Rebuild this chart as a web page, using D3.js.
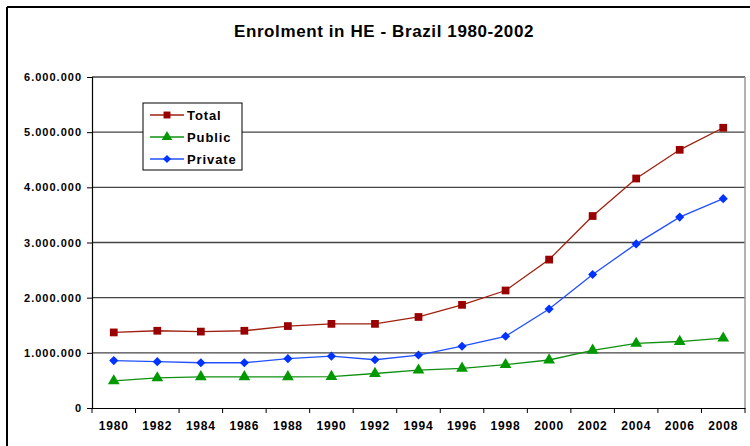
<!DOCTYPE html>
<html>
<head>
<meta charset="UTF-8">
<script src="https://cdn.jsdelivr.net/npm/d3@7/dist/d3.min.js"></script>
<style>
  body { margin:0; background:#fff; }
  text { font-family: "Liberation Sans", Arial, sans-serif; font-weight: bold; }
</style>
</head>
<body>
<div id="chart"></div>
<script>
// data (values in persons)
var years = ["1980","1982","1984","1986","1988","1990","1992","1994","1996","1998","2000","2002","2004","2006","2008"];
var total   = [1370000,1400000,1385000,1400000,1485000,1525000,1525000,1650000,1870000,2130000,2690000,3480000,4160000,4680000,5080000];
var publico = [490000,545000,565000,565000,565000,570000,625000,685000,720000,785000,870000,1045000,1170000,1205000,1265000];
var privado = [860000,840000,820000,820000,895000,940000,875000,960000,1120000,1300000,1795000,2420000,2975000,3460000,3795000];
var yTicks = [0,1000000,2000000,3000000,4000000,5000000,6000000];

var width = 750, height = 446;
var plot = {left:92, right:745, top:77, bottom:408};

var svg = d3.select("#chart").append("svg")
  .attr("width", width).attr("height", height);

// outer chart frame
svg.append("line").attr("x1",7).attr("x2",750).attr("y1",7).attr("y2",7)
  .attr("stroke","#000").attr("stroke-width",2);
svg.append("line").attr("x1",7).attr("x2",7).attr("y1",7).attr("y2",446)
  .attr("stroke","#000").attr("stroke-width",2);

svg.append("text").attr("x",384).attr("y",37).attr("text-anchor","middle")
  .style("font-size","17px").style("letter-spacing","0.6px")
  .text("Enrolment in HE - Brazil 1980-2002");

var x = d3.scaleBand().domain(years).range([plot.left, plot.right]);
var y = d3.scaleLinear().domain([0,6000000]).range([plot.bottom, plot.top]);

// gridlines
svg.append("g").selectAll("line").data(yTicks.slice(1)).join("line")
  .attr("x1",plot.left).attr("x2",plot.right)
  .attr("y1",d=>y(d)).attr("y2",d=>y(d))
  .attr("stroke","#444").attr("stroke-width",1.4);

// right border of plot
svg.append("line").attr("x1",plot.right).attr("x2",plot.right)
  .attr("y1",plot.top).attr("y2",plot.bottom).attr("stroke","#999").attr("stroke-width",1.5);

var fmt = function(d){ return d3.format(",")(d).replace(/,/g,"."); };

var yAxis = svg.append("g").attr("transform","translate("+plot.left+",0)")
  .call(d3.axisLeft(y).tickValues(yTicks).tickFormat(fmt).tickSize(5).tickPadding(5));
yAxis.select(".domain").attr("stroke","#000").attr("stroke-width",1.2);
yAxis.selectAll(".tick line").attr("stroke","#000");
yAxis.selectAll("text").style("font-size","11px").style("letter-spacing","1px").attr("fill","#000");

var xAxis = svg.append("g").attr("transform","translate(0,"+plot.bottom+")")
  .call(d3.axisBottom(x).tickSize(0).tickPadding(13));
xAxis.select(".domain").attr("stroke","#000").attr("stroke-width",1.2);
xAxis.selectAll("text").style("font-size","12px").style("letter-spacing","0.8px").attr("fill","#000");
// ticks between categories
svg.append("g").selectAll("line").data(years.concat(["end"])).join("line")
  .attr("x1",(d,i)=>plot.left + i*x.step()).attr("x2",(d,i)=>plot.left + i*x.step())
  .attr("y1",plot.bottom).attr("y2",plot.bottom+5).attr("stroke","#000");

var series = [
  {name:"Total",   values:total,   line:"#a02010", fill:"#990000", shape:d3.symbolSquare,   size:60, rot:0},
  {name:"Public",  values:publico, line:"#109010", fill:"#009900", shape:d3.symbolTriangle, size:60, rot:0},
  {name:"Private", values:privado, line:"#2050ff", fill:"#0033ff", shape:d3.symbolSquare,   size:42, rot:45}
];

var line = d3.line().x((d,i)=>x(years[i]) + x.bandwidth()/2).y(d=>y(d));

series.forEach(function(s){
  svg.append("path").datum(s.values).attr("d",line)
    .attr("fill","none").attr("stroke",s.line).attr("stroke-width",1.3);
  svg.append("g").selectAll("path").data(s.values).join("path")
    .attr("d", d3.symbol().type(s.shape).size(s.size))
    .attr("transform",(d,i)=>"translate("+(x(years[i]) + x.bandwidth()/2)+","+y(d)+") rotate("+s.rot+")")
    .attr("fill",s.fill);
});

// legend
var lg = svg.append("g").attr("transform","translate(143,103)");
lg.append("rect").attr("width",99).attr("height",67)
  .attr("fill","#fff").attr("stroke","#000").attr("stroke-width",1);
series.forEach(function(s,i){
  var yy = 12 + i*22;
  lg.append("line").attr("x1",7).attr("x2",41).attr("y1",yy).attr("y2",yy)
    .attr("stroke",s.line).attr("stroke-width",1.3);
  lg.append("path").attr("d",d3.symbol().type(s.shape).size(s.size*0.8))
    .attr("transform","translate(24,"+yy+") rotate("+s.rot+")").attr("fill",s.fill);
  lg.append("text").attr("x",44).attr("y",yy+5).style("font-size","13px")
    .style("letter-spacing","0.9px").text(s.name);
});
</script>
</body>
</html>
